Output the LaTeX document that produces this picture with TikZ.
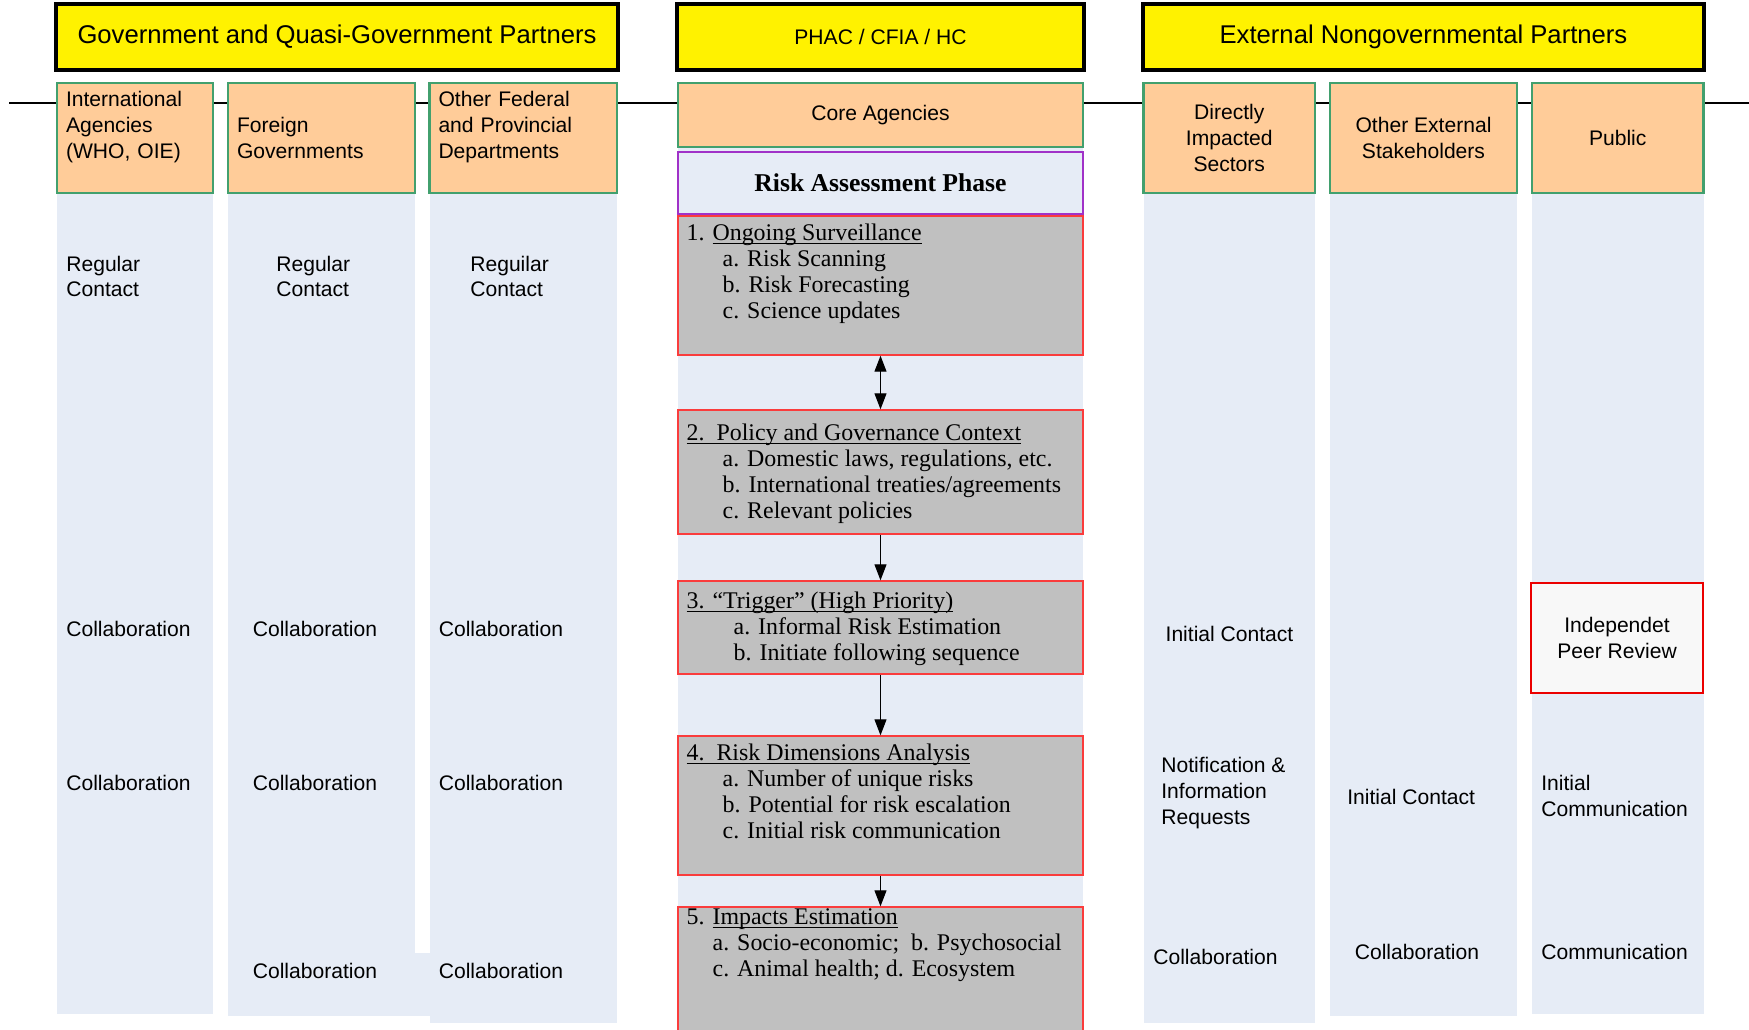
\documentclass[tikz,border=0pt]{standalone}
\usepackage{fontspec}
\setmainfont{Liberation Serif}
\setsansfont{Liberation Sans}
\usetikzlibrary{positioning,arrows.meta}

\definecolor{laneblue}{RGB}{230,236,246}
\definecolor{peach}{RGB}{255,204,153}
\definecolor{edgegreen}{RGB}{66,160,110}
\definecolor{stagegrey}{RGB}{192,192,192}
\definecolor{stagered}{RGB}{250,60,60}
\definecolor{phasepurple}{RGB}{160,50,200}
\definecolor{reviewred}{RGB}{235,0,0}
\definecolor{reviewfill}{RGB}{248,248,248}

\newcommand{\stind}[1][0.72cm]{\hspace*{#1}}
\newcommand{\uln}[1]{\underline{\smash{#1}}}

\begin{document}
\begin{tikzpicture}[x=0.02cm, y=-0.02cm,
    groupbox/.style={draw=black, line width=2.3pt, fill=yellow, minimum height=1.32cm, inner sep=0pt, font=\sffamily\fontsize{14.6}{17}\selectfont},
    partnerbox/.style={draw=edgegreen, line width=1.3pt, fill=peach, minimum height=2.2cm, inner xsep=0.18cm, inner ysep=0pt, font=\sffamily\fontsize{12}{14.74}\selectfont},
    lanefill/.style={fill=laneblue},
    phasebox/.style={draw=phasepurple, line width=0.8pt, fill=laneblue, minimum width=8.1cm, minimum height=1.24cm, font=\bfseries\fontsize{14.6}{17}\selectfont},
    stagebox/.style={draw=stagered, line width=0.8pt, fill=stagegrey, minimum width=8.1cm, inner sep=0pt},
    stagetext/.style={align=left, inner sep=0pt, font=\fontsize{13.6}{14.7}\selectfont},
    cellnote/.style={align=left, inner sep=0pt, font=\sffamily\fontsize{12}{14.74}\selectfont},
    reviewbox/.style={draw=reviewred, line width=1.6pt, fill=reviewfill, minimum width=3.44cm, minimum height=2.2cm, align=center, font=\sffamily\fontsize{12}{14.74}\selectfont},
    arrow/.style={-{Triangle[length=0.32cm,width=0.24cm]}, line width=0.6pt},
    dblarrow/.style={{Triangle[length=0.32cm,width=0.24cm]}-{Triangle[length=0.32cm,width=0.24cm]}, line width=0.6pt}]

    \useasboundingbox (0,0) rectangle (1749,1029);

    % Lanes
    \foreach \xl/\xr/\yb in {57/213/1014, 228/415/1016, 430/617/1023, 1143.5/1315/1023, 1330/1517/1016, 1532/1703.5/1014}
        \fill[lanefill] (\xl,193) rectangle (\xr,\yb);
    \fill[lanefill] (415,953) rectangle (430,1016);
    \fill[lanefill] (678,147) rectangle (1083,1029);

    % Partner line
    \coordinate (lineL) at (9,102.7);
    \coordinate (lineR) at (1749,102.7);
    \draw[line width=1.2pt] (lineL) -- (lineR);

    % Group headers
    \node[groupbox, minimum width=11.24cm] (gov) at (337,37) {Government and Quasi-Government Partners};
    \node[groupbox, minimum width=8.14cm, font=\sffamily\fontsize{12}{14}\selectfont] (phac) at (880.5,37) {PHAC / CFIA / HC};
    \node[groupbox, minimum width=11.22cm] (ext) at (1423.5,37) {External Nongovernmental Partners};

    % Partner boxes
    \node[partnerbox, text width=2.76cm, align=left] (intl) at (135,138) {International\\Agencies\\(WHO, OIE)\\[-3.8pt]\strut};
    \node[partnerbox, text width=3.38cm, align=left] (foreign) at (321.5,138) {Foreign\\Governments};
    \node[partnerbox, text width=3.39cm, align=left] (otherfed) at (523.25,138) {Other Federal\\and Provincial\\Departments\\[-3.8pt]\strut};
    \node[partnerbox, minimum width=8.1cm, minimum height=1.28cm] (core) at (880.5,115) {Core Agencies};
    \node[partnerbox, minimum width=3.43cm, align=center] (direct) at (1229.25,138) {Directly\\Impacted\\Sectors};
    \node[partnerbox, minimum width=3.74cm, align=center] (otherext) at (1423.5,138) {Other External\\Stakeholders};
    \node[partnerbox, minimum width=3.43cm] (public) at (1617.75,138) {Public};

    % Risk assessment phase
    \node[phasebox] (phase) at (880.5,183) {Risk Assessment Phase};

    \node[stagebox, minimum height=2.78cm] (s1) at (880.5,285.5) {};
    \node[stagebox, minimum height=2.48cm] (s2) at (880.5,472) {};
    \node[stagebox, minimum height=1.86cm] (s3) at (880.5,627.5) {};
    \node[stagebox, minimum height=2.78cm] (s4) at (880.5,805.5) {};
    \node[stagebox, minimum height=2.66cm] (s5) at (880.5,973.5) {};

    \node[stagetext, below right=0.14cm and 0.18cm of s1.north west] (t1) {\strut 1. \uln{Ongoing Surveillance}\\
        \stind a. Risk Scanning\\
        \stind b. Risk Forecasting\\
        \stind c. Science updates};
    \node[stagetext, below right=0.26cm and 0.18cm of s2.north west] (t2) {\strut\uln{2.\ \ Policy and Governance Context}\\
        \stind a. Domestic laws, regulations, etc.\\
        \stind b. International treaties/agreements\\
        \stind c. Relevant policies};
    \node[stagetext, below right=0.2cm and 0.18cm of s3.north west] (t3) {\strut\uln{3. ``Trigger'' (High Priority)}\\
        \stind[0.94cm]a. Informal Risk Estimation\\
        \stind[0.94cm]b. Initiate following sequence};
    \node[stagetext, below right=0.14cm and 0.18cm of s4.north west] (t4) {\strut\uln{4.\ \ Risk Dimensions Analysis}\\
        \stind a. Number of unique risks\\
        \stind b. Potential for risk escalation\\
        \stind c. Initial risk communication};
    \node[stagetext, below right=0cm and 0.18cm of s5.north west] (t5) {\strut 5. \uln{Impacts Estimation}\\
        \stind[0.52cm]a. Socio-economic;\ \ b. Psychosocial\\
        \stind[0.52cm]c. Animal health; d. Ecosystem};

    % Arrows
    \draw[dblarrow] (s1.south) -- (s2.north);
    \draw[arrow] (s2.south) -- (s3.north);
    \draw[arrow] (s3.south) -- (s4.north);
    \draw[arrow] (s4.south) -- (s5.north);

    % Government lanes
    \node[cellnote, anchor=west] (intlreg) at (66,276.5) {Regular\\Contact};
    \node[cellnote, anchor=west] (forreg) at (276,276.5) {Regular\\Contact};
    \node[cellnote, anchor=west] (fedreg) at (470,276.5) {Reguilar\\Contact};
    \foreach \x/\n in {66/intl, 252.5/for, 438.5/fed} {
        \node[cellnote, anchor=west] (\n col1) at (\x,629) {Collaboration};
        \node[cellnote, anchor=west] (\n col2) at (\x,783) {Collaboration};
    }
    \node[cellnote, anchor=west] (forcol3) at (252.5,971) {Collaboration};
    \node[cellnote, anchor=west] (fedcol3) at (438.5,971) {Collaboration};

    % External lanes
    \node[cellnote] (dirinit) at (1229.5,634) {Initial Contact};
    \node[cellnote, anchor=west] (dirnote) at (1161,793) {Notification \&\\Information\\Requests};
    \node[cellnote, anchor=west] (dircol) at (1153,957) {Collaboration};
    \node[cellnote, anchor=west] (extinit) at (1347,797) {Initial Contact};
    \node[cellnote, anchor=west] (extcol) at (1354.5,952) {Collaboration};
    \node[reviewbox] (review) at (1617,638) {Independet\\Peer Review};
    \node[cellnote, anchor=west] (pubinit) at (1541,796) {Initial\\Communication};
    \node[cellnote, anchor=west] (pubcom) at (1541,952) {Communication};

\end{tikzpicture}
\end{document}
